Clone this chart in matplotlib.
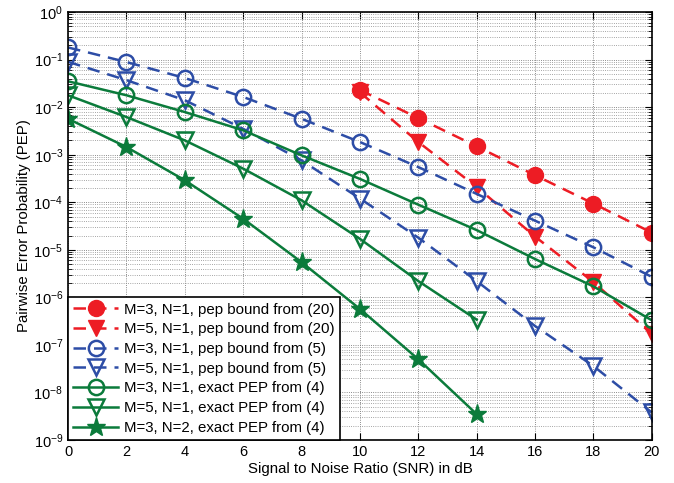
import matplotlib
matplotlib.use('Agg')
import matplotlib.pyplot as plt
from matplotlib.ticker import LogLocator, NullFormatter

plt.rcParams['font.family'] = ['Liberation Sans', 'DejaVu Sans']
plt.rcParams['mathtext.fontset'] = 'custom'
plt.rcParams['mathtext.rm'] = 'Liberation Sans'

snr = [0, 2, 4, 6, 8, 10, 12, 14, 16, 18, 20]
snr_bound20 = [10, 12, 14, 16, 18, 20]
snr_n2 = [0, 2, 4, 6, 8, 10, 12, 14]
snr_m5 = [0, 2, 4, 6, 8, 10, 12, 14]

# pep bound from (20)
pep20_m3 = [2.3e-2, 5.9e-3, 1.5e-3, 3.7e-4, 9.4e-5, 2.3e-5]
pep20_m5 = [2.05e-2, 1.85e-3, 2.1e-4, 1.9e-5, 2.1e-6, 1.7e-7]

# pep bound from (5)
pep5_m3 = [0.18, 8.9e-2, 4.1e-2, 1.64e-2, 5.7e-3, 1.85e-3, 5.5e-4, 1.5e-4,
           4.1e-5, 1.13e-5, 2.7e-6]
pep5_m5 = [9.0e-2, 3.7e-2, 1.4e-2, 3.5e-3, 7.6e-4, 1.2e-4, 1.8e-5, 2.2e-6,
           2.5e-7, 3.6e-8, 3.8e-9]

# exact PEP from (4)
exact_m3 = [3.5e-2, 1.78e-2, 7.9e-3, 3.26e-3, 9.7e-4, 3.1e-4, 8.9e-5, 2.6e-5,
            6.4e-6, 1.7e-6, 3.3e-7]
exact_m5 = [1.78e-2, 6.2e-3, 2.0e-3, 5.1e-4, 1.1e-4, 1.7e-5, 2.2e-6, 3.4e-7]
exact_n2 = [5.7e-3, 1.45e-3, 2.9e-4, 4.5e-5, 5.5e-6, 5.7e-7, 5.0e-8, 3.5e-9]

red = '#ED1C24'
blue = '#2D4DA6'
green = '#0B7B3B'

fig = plt.figure(figsize=(6.74, 4.83), dpi=100)
ax = fig.add_axes([0.101, 0.089, 0.866, 0.886])

lw = 1.8
dash = (5, 3.2)
ms = 11

ax.semilogy(snr_bound20, pep20_m3, color=red, lw=lw, dashes=dash, marker='o',
            ms=ms + 0.5, mfc=red, mec=red, label='M=3, N=1, pep bound from (20)')
ax.semilogy(snr_bound20, pep20_m5, color=red, lw=lw, dashes=dash, marker='v',
            ms=ms + 0.5, mfc=red, mec=red, label='M=5, N=1, pep bound from (20)')
ax.semilogy(snr, pep5_m3, color=blue, lw=lw, dashes=dash, marker='o',
            ms=ms, mfc='none', mec=blue, mew=1.8,
            label='M=3, N=1, pep bound from (5)')
ax.semilogy(snr, pep5_m5, color=blue, lw=lw, dashes=dash, marker='v',
            ms=ms, mfc='none', mec=blue, mew=1.8,
            label='M=5, N=1, pep bound from (5)')
ax.semilogy(snr, exact_m3, color=green, lw=lw, marker='o', ms=ms,
            mfc='none', mec=green, mew=1.8,
            label='M=3, N=1, exact PEP from (4)')
ax.semilogy(snr_m5, exact_m5, color=green, lw=lw, marker='v', ms=ms,
            mfc='none', mec=green, mew=1.8,
            label='M=5, N=1, exact PEP from (4)')
ax.semilogy(snr_n2, exact_n2, color=green, lw=lw, marker='*', ms=ms + 3,
            mfc=green, mec=green, label='M=3, N=2, exact PEP from (4)')

ax.set_xlim(0, 20)
ax.set_ylim(1e-9, 1)
ax.set_xticks(range(0, 21, 2))
ax.yaxis.set_major_locator(LogLocator(base=10, numticks=12))
ax.yaxis.set_minor_locator(LogLocator(base=10, subs=range(2, 10), numticks=12))
ax.yaxis.set_minor_formatter(NullFormatter())

ax.grid(True, which='major', axis='both', linestyle=':', color='#666666', lw=0.6)
ax.grid(True, which='minor', axis='y', linestyle=':', color='#888888', lw=0.6)

ax.tick_params(which='both', direction='in', top=True, right=True, labelsize=10.5)
ax.tick_params(which='major', length=5)
ax.tick_params(which='minor', length=3)
for s in ax.spines.values():
    s.set_linewidth(1.2)

ax.set_xlabel('Signal to Noise Ratio (SNR) in dB', fontsize=10.8, labelpad=2)
ax.set_ylabel('Pairwise Error Probability (PEP)', fontsize=10.8, labelpad=2)

leg = ax.legend(loc='lower left', fontsize=10.8, fancybox=False, framealpha=1,
                edgecolor='black', borderaxespad=0, handlelength=3.0,
                labelspacing=0.38, borderpad=0.35, handletextpad=0.4)
leg.get_frame().set_linewidth(1.2)

fig.savefig('out.png', dpi=100)
